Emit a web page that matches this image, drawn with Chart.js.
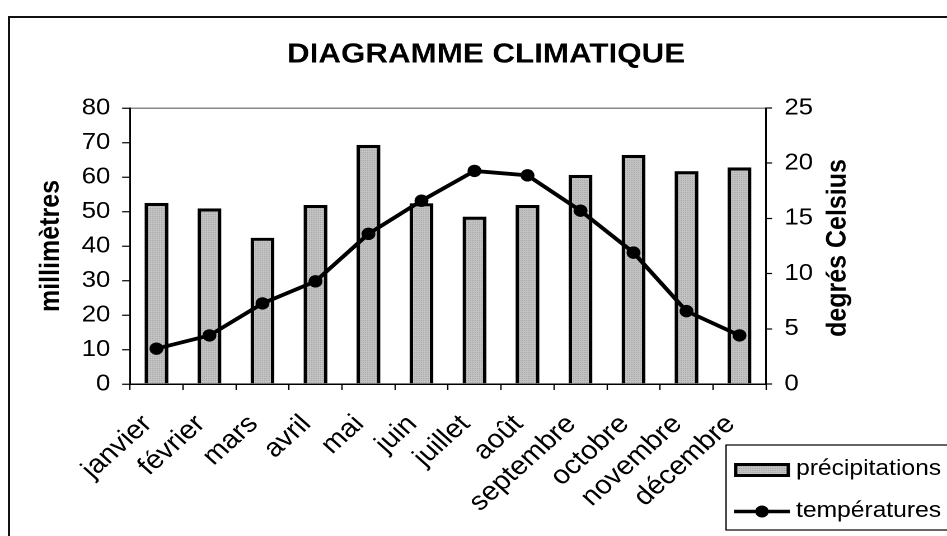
<!DOCTYPE html>
<html>
<head>
<meta charset="utf-8">
<script src="https://cdn.jsdelivr.net/npm/chart.js@4.4.1/dist/chart.umd.min.js"></script>
<style>
  html, body { margin: 0; padding: 0; background: #fff; overflow: hidden; }
  #wrap { width: 846px; height: 536px; transform: scaleX(1.11939); transform-origin: 0 0; }
</style>
</head>
<body>
<div id="wrap"><canvas id="c" width="846" height="536"></canvas></div>
<script>
const chartTitle = 'DIAGRAMME CLIMATIQUE';
const months = ['janvier','février','mars','avril','mai','juin','juillet','août','septembre','octobre','novembre','décembre'];
const precipitations = [52.5, 50.9, 42.4, 51.9, 69.3, 52.4, 48.5, 51.9, 60.6, 66.4, 61.7, 62.8];
const temperatures = [3.2, 4.4, 7.3, 9.3, 13.6, 16.6, 19.3, 18.9, 15.7, 11.9, 6.6, 4.4];
const seriesNames = ['précipitations', 'températures'];
const leftAxisTitle = 'millimètres';
const rightAxisTitle = 'degrés Celsius';

const FONT = "'Liberation Sans', Arial, sans-serif";

// fine dotted gray fill like the original
function makePattern() {
  const t = document.createElement('canvas');
  t.width = 2; t.height = 2;
  const g = t.getContext('2d');
  g.fillStyle = '#d0d0d0'; g.fillRect(0, 0, 2, 2);
  g.fillStyle = '#8f8f8f'; g.fillRect(0, 0, 1, 1);
  g.fillStyle = '#c2c2c2'; g.fillRect(1, 1, 1, 1);
  return g.createPattern(t, 'repeat');
}
const pattern = makePattern();

const decorPlugin = {
  id: 'decor',
  beforeDraw(chart) {
    const ctx = chart.ctx;
    ctx.save();
    ctx.fillStyle = '#fff';
    ctx.fillRect(0, 0, chart.width, chart.height);
    ctx.strokeStyle = '#111';
    ctx.lineWidth = 2;
    ctx.strokeRect(8, 17, chart.width + 20, chart.height + 20);
    ctx.restore();
  },
  afterDraw(chart) {
    const ctx = chart.ctx;
    const ds = chart.data.datasets;
    ctx.save();
    // title
    ctx.fillStyle = '#000';
    ctx.font = "bold 28px " + FONT;
    ctx.textAlign = 'center';
    ctx.textBaseline = 'middle';
    ctx.fillText(chartTitle, 434.2, 55);
    // right axis title (reads bottom to top)
    const ca = chart.chartArea;
    ctx.save();
    ctx.translate(748.6, (ca.top + ca.bottom) / 2 + 2);
    ctx.rotate(-Math.PI / 2);
    ctx.font = "bold 25px " + FONT;
    ctx.fillText(rightAxisTitle, 0, 0);
    ctx.restore();
    // legend box
    const lx = 648.6, ly = 445;
    ctx.fillStyle = '#fff';
    ctx.fillRect(lx, ly, chart.width, 85);
    ctx.strokeStyle = '#000';
    ctx.lineWidth = 1.2;
    ctx.strokeRect(lx, ly, chart.width, 85);
    // bar swatch
    const barDs = ds.find(d => d.type === 'bar');
    const lineDs = ds.find(d => d.type === 'line');
    ctx.fillStyle = barDs.backgroundColor;
    ctx.fillRect(655.7, 463, 50, 14);
    ctx.strokeStyle = barDs.borderColor;
    ctx.lineWidth = 3;
    ctx.strokeRect(657.2, 464.5, 47, 11);
    // line swatch
    ctx.strokeStyle = lineDs.borderColor;
    ctx.lineWidth = 3.5;
    ctx.beginPath();
    ctx.moveTo(655.7, 511.5);
    ctx.lineTo(705.7, 511.5);
    ctx.stroke();
    ctx.fillStyle = lineDs.pointBackgroundColor;
    ctx.beginPath();
    ctx.arc(680.7, 511.5, 6, 0, Math.PI * 2);
    ctx.fill();
    // legend labels
    ctx.fillStyle = '#000';
    ctx.font = "22px " + FONT;
    ctx.textAlign = 'left';
    ctx.textBaseline = 'middle';
    ctx.fillText(barDs.label, 711.1, 469);
    ctx.fillText(lineDs.label, 711.1, 511);
    ctx.restore();
  }
};

new Chart(document.getElementById('c'), {
  data: {
    labels: months,
    datasets: [
      {
        type: 'line',
        label: seriesNames[1],
        data: temperatures,
        yAxisID: 'y2',
        borderColor: '#000',
        borderWidth: 3.8,
        pointRadius: 6.2,
        pointBackgroundColor: '#000',
        pointBorderColor: '#000',
        pointBorderWidth: 0,
        tension: 0,
        order: 1
      },
      {
        type: 'bar',
        label: seriesNames[0],
        data: precipitations,
        yAxisID: 'y',
        backgroundColor: pattern,
        borderColor: '#000',
        borderWidth: 3.2,
        borderSkipped: 'bottom',
        categoryPercentage: 1,
        barPercentage: 0.45,
        order: 2
      }
    ]
  },
  options: {
    responsive: false,
    animation: false,
    devicePixelRatio: 2,
    layout: { padding: { top: 108, left: 0, right: 0, bottom: 0 } },
    plugins: {
      legend: { display: false },
      title: { display: false },
      tooltip: { enabled: false }
    },
    scales: {
      x: {
        type: 'category',
        grid: { display: true, offset: true, drawOnChartArea: false, tickLength: 6, tickColor: '#000', tickWidth: 1.2 },
        border: { display: true, color: '#000', width: 1.5 },
        ticks: {
          color: '#000',
          font: { family: FONT, size: 26 },
          minRotation: 45,
          maxRotation: 45,
          autoSkip: false,
          labelOffset: -8,
          padding: 19
        },
        afterFit(scale) { scale.height = 152; }
      },
      y: {
        position: 'left',
        min: 0,
        max: 80,
        grid: {
          display: true,
          drawOnChartArea: true,
          color: (c) => (c.tick && c.tick.value === 80 ? '#8a8a8a' : 'rgba(0,0,0,0)'),
          lineWidth: 1.5,
          tickColor: '#000',
          tickLength: 7,
          tickWidth: 1.2
        },
        border: { display: true, color: '#000', width: 1.5 },
        ticks: {
          color: '#000',
          font: { family: FONT, size: 23 },
          stepSize: 10,
          padding: 10.5
        },
        title: {
          display: true,
          text: leftAxisTitle,
          color: '#000',
          font: { family: FONT, size: 25, weight: 'bold' },
          padding: { top: 30.6, bottom: 0 }
        },
        afterFit(scale) { scale.width = 116.1; }
      },
      y2: {
        position: 'right',
        min: 0,
        max: 25,
        grid: { display: true, drawOnChartArea: false, tickColor: '#000', tickLength: 5.4, tickWidth: 1.2 },
        border: { display: true, color: '#000', width: 1.5 },
        ticks: {
          color: '#000',
          font: { family: FONT, size: 23 },
          stepSize: 5,
          padding: 11
        },
        afterFit(scale) { scale.width = 161.7; }
      }
    }
  },
  plugins: [decorPlugin]
});
</script>
</body>
</html>
